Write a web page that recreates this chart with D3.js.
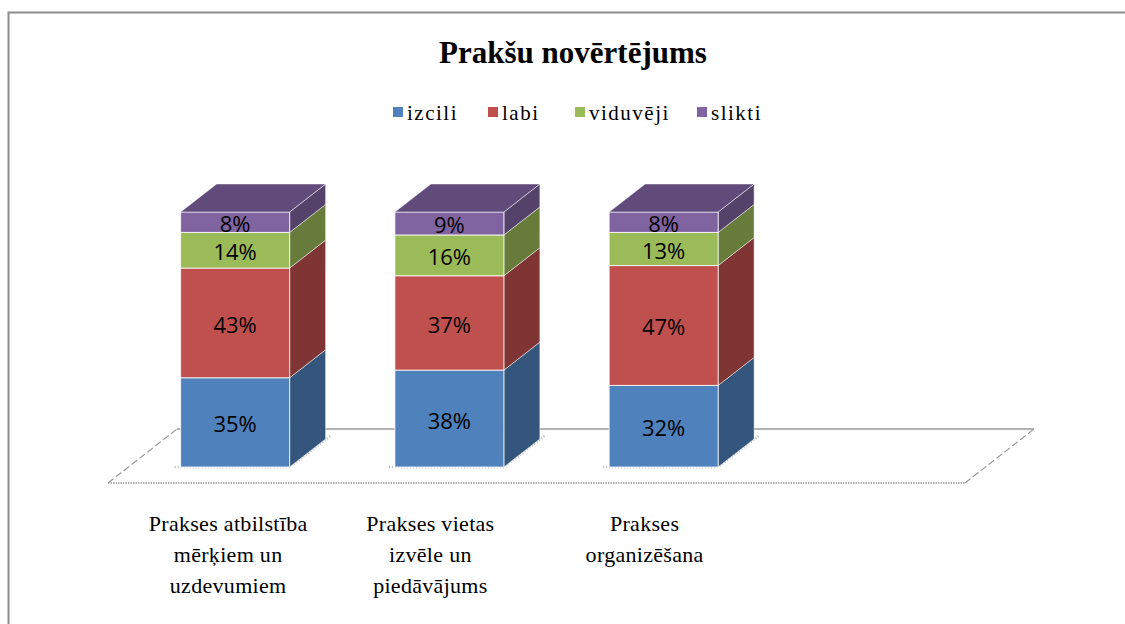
<!DOCTYPE html>
<html>
<head>
<meta charset="utf-8">
<style>
  body { margin: 0; background: #fff; }
  svg { display: block; }
</style>
</head>
<body>
<script src="https://d3js.org/d3.v7.min.js"></script>
<script>
  // data
  const categories = [
    ["Prakses atbilstība", "mērķiem un", "uzdevumiem"],
    ["Prakses vietas", "izvēle un", "piedāvājums"],
    ["Prakses", "organizēšana"]
  ];
  const seriesNames = ["izcili", "labi", "viduvēji", "slikti"];
  const izcili = [35, 38, 32];
  const labi = [43, 37, 47];
  const viduveji = [14, 16, 13];
  const slikti = [8, 9, 8];
  const colors = ["#4F81BD", "#C0504D", "#9BBB59", "#8064A2"];

  const W = 1125, H = 624;
  const svg = d3.select("body").append("svg")
    .attr("width", W).attr("height", H);

  // outer frame
  svg.append("rect")
    .attr("x", 8.5).attr("y", 12.5)
    .attr("width", W).attr("height", H)
    .attr("fill", "none").attr("stroke", "#8c8c8c").attr("stroke-width", 2);

  // title
  svg.append("text")
    .attr("x", 573).attr("y", 63)
    .attr("text-anchor", "middle")
    .style("font-family", "'Liberation Serif', 'Times New Roman', serif")
    .style("font-weight", "bold")
    .style("font-size", "31px")
    .text("Prakšu novērtējums");

  // legend
  const legendX = [393, 488, 575, 697];
  const lg = svg.append("g")
    .style("font-family", "'Liberation Serif', 'Times New Roman', serif")
    .style("font-size", "21px")
    .style("letter-spacing", "1.5px");
  seriesNames.forEach((s, i) => {
    lg.append("rect").attr("x", legendX[i]).attr("y", 107)
      .attr("width", 10).attr("height", 10).attr("fill", colors[i]);
    lg.append("text").attr("x", legendX[i] + 14).attr("y", 120).text(s);
  });

  // floor (4 slots, last one empty)
  const floorY = 483, depth = [69, -54];
  const x = d3.scaleBand().domain(d3.range(4)).range([108, 965]);
  const x0 = x.range()[0], x1 = x.range()[1];
  const floor = svg.append("g").attr("fill", "none");
  floor.append("line").attr("x1", x0).attr("y1", floorY).attr("x2", x1).attr("y2", floorY)
    .attr("stroke", "#999").attr("stroke-width", 1.5).attr("stroke-dasharray", "1.5,1");
  floor.append("line").attr("x1", x0 + depth[0]).attr("y1", floorY + depth[1])
    .attr("x2", x1 + depth[0]).attr("y2", floorY + depth[1])
    .attr("stroke", "#999").attr("stroke-width", 1.5);
  [x0, x1].forEach(px => {
    floor.append("line").attr("x1", px).attr("y1", floorY)
      .attr("x2", px + depth[0]).attr("y2", floorY + depth[1])
      .attr("stroke", "#999").attr("stroke-width", 1.2).attr("stroke-dasharray", "7,3");
  });

  // bars
  const front = [21, -16], bd = [36, -28];
  const barW = 109;
  const y = d3.scaleLinear().domain([0, 100]).range([floorY + front[1], 212]);
  const rows = izcili.map((v, i) => ({ i, izcili: v, labi: labi[i], "viduvēji": viduveji[i], slikti: slikti[i] }));
  const stack = d3.stack().keys(seriesNames)(rows);

  const bars = svg.append("g");
  rows.forEach((r, i) => {
    const bx = x(i) + (x.bandwidth() - barW) / 2 + front[0] - 1;
    const g = bars.append("g");
    // dotted shadow on the floor
    const by = y(0);
    g.append("path")
      .attr("d", `M${bx - 6},${by} L${bx + barW},${by} L${bx + barW + bd[0] + 6},${by + bd[1] - 4}`)
      .attr("fill", "none").attr("stroke", "#bbb").attr("stroke-width", 2.5)
      .attr("stroke-dasharray", "1,2");
    stack.forEach((layer, k) => {
      const d = layer[i];
      const yb = y(d[0]), yt = y(d[1]);
      const c = d3.color(colors[k]);
      g.append("path")
        .attr("d", `M${bx + barW},${yb} L${bx + barW + bd[0]},${yb + bd[1]} L${bx + barW + bd[0]},${yt + bd[1]} L${bx + barW},${yt} Z`)
        .attr("fill", c.darker(1.15)).attr("stroke", "#fff").attr("stroke-width", 0.7).attr("stroke-opacity", 0.7);
      g.append("rect")
        .attr("x", bx).attr("y", yt).attr("width", barW).attr("height", yb - yt)
        .attr("fill", c).attr("stroke", "#fff").attr("stroke-width", 1).attr("stroke-opacity", 0.8);
      g.append("text")
        .attr("x", bx + barW / 2).attr("y", (yb + yt) / 2 + 1)
        .attr("text-anchor", "middle").attr("dominant-baseline", "central")
        .style("font-family", "'Open Sans', sans-serif").style("font-size", "22px")
        .text(d.data[seriesNames[k]] + "%");
      if (k === stack.length - 1) {
        g.append("path")
          .attr("d", `M${bx},${yt} L${bx + barW},${yt} L${bx + barW + bd[0]},${yt + bd[1]} L${bx + bd[0]},${yt + bd[1]} Z`)
          .attr("fill", c.darker(0.8)).attr("stroke", "#fff").attr("stroke-width", 0.7).attr("stroke-opacity", 0.7);
      }
    });
  });

  // category labels
  const cl = svg.append("g")
    .style("font-family", "'Liberation Serif', 'Times New Roman', serif")
    .style("font-size", "22px")
    .style("letter-spacing", "0.3px")
    .attr("text-anchor", "middle");
  categories.forEach((lines, i) => {
    const t = cl.append("text").attr("x", x(i) + x.bandwidth() / 2 + (i === 0 ? 13 : 1)).attr("y", 531);
    lines.forEach((ln, j) => t.append("tspan").attr("x", t.attr("x")).attr("dy", j ? 31 : 0).text(ln));
  });
</script>
</body>
</html>
